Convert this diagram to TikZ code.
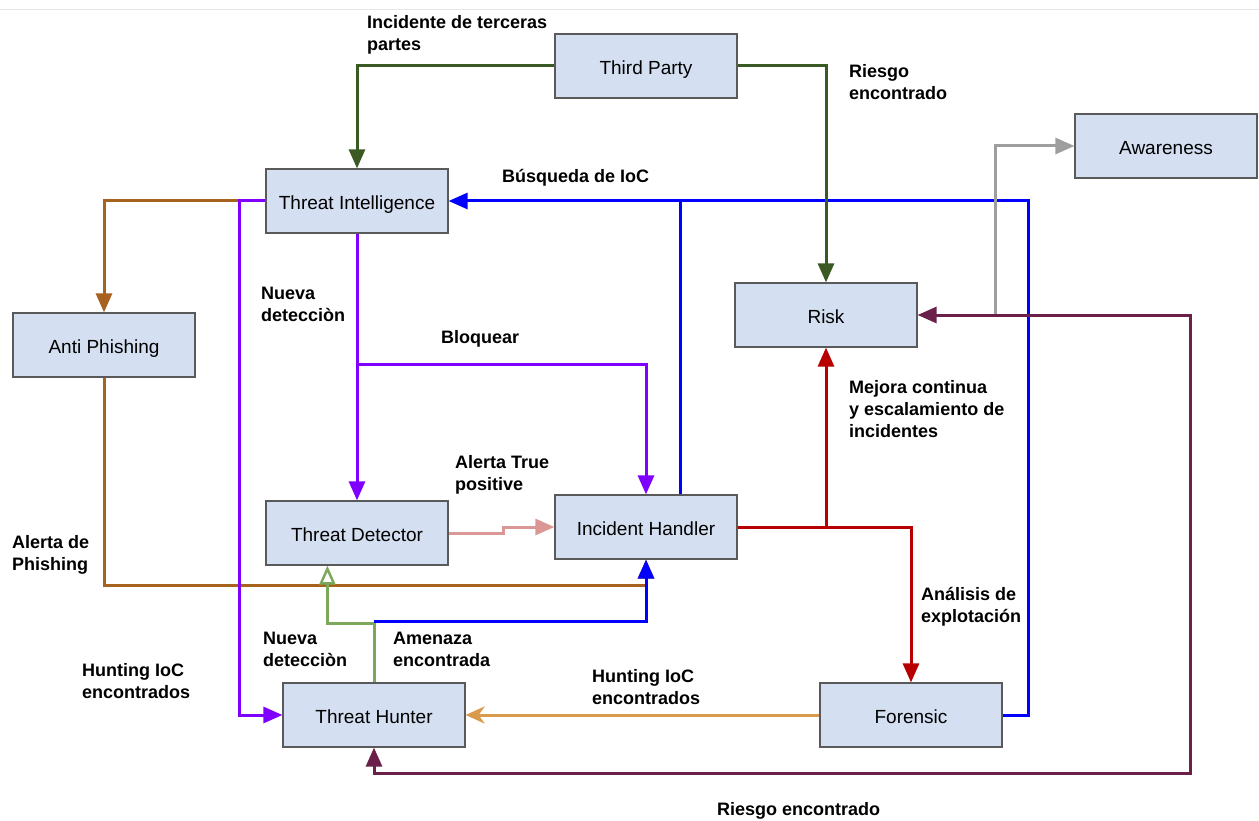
\documentclass[tikz,border=0pt]{standalone}
\usepackage{fontspec}
\setmainfont{Liberation Sans}
\usetikzlibrary{arrows.meta,calc}
\definecolor{boxfill}{HTML}{D4E0F1}
\definecolor{boxline}{HTML}{5A5A5A}
\definecolor{dgreen}{HTML}{3B5A23}
\definecolor{lgreen}{HTML}{7DA85B}
\definecolor{purp}{HTML}{8000FF}
\definecolor{bblue}{HTML}{0000FF}
\definecolor{brownc}{HTML}{A8621F}
\definecolor{pinkc}{HTML}{DB9796}
\definecolor{redc}{HTML}{B80000}
\definecolor{orangec}{HTML}{DA9A4C}
\definecolor{maroon}{HTML}{6A2048}
\definecolor{grayc}{HTML}{9E9E9E}
\definecolor{topline}{HTML}{E6E6E6}
\begin{document}
\begin{tikzpicture}[x=1pt,y=-1pt,
  box/.style={draw=boxline, fill=boxfill, line width=1.2pt, minimum width=182pt, minimum height=64pt, inner sep=0pt, text height=17pt, text depth=0pt, font=\fontsize{19}{22}\selectfont},
  lab/.style={anchor=north west, align=left, inner sep=0pt, font=\fontsize{18}{22}\selectfont\bfseries},
  conn/.style={line width=3pt},
  tip/.style={-{Triangle[length=19pt,width=16pt]}},
  tipboth/.style={{Triangle[length=19pt,width=16pt]}-{Triangle[length=19pt,width=16pt]}},
  opentip/.style={-{Triangle[open,length=19pt,width=16pt,line width=2.5pt]}},
  stealthtip/.style={-{Stealth[length=19pt,width=17pt,inset=6pt]}}
]
\useasboundingbox (0,0) rectangle (1259,821);
\draw[topline, line width=1pt] (0,10) -- (1259,10);

% nodes
\node[box] (tp) at (646,66) {Third Party};
\node[box] (ti) at (357,201) {Threat Intelligence};
\node[box] (aw) at (1166,146) {Awareness};
\node[box] (risk) at (826,315) {Risk};
\node[box] (ap) at (104,345) {Anti Phishing};
\node[box] (td) at (357,533) {Threat Detector};
\node[box] (ih) at (646,527) {Incident Handler};
\node[box] (th) at (374,715) {Threat Hunter};
\node[box] (fo) at (911,715) {Forensic};

% brown
\draw[conn,brownc,tip] (ti.west) -| (ap.north);
\draw[conn,brownc,tip] (ap.south) |- ($(ih.south)+(0,26)$) -- (ih.south);

% purple
\draw[conn,purp,tip] (ti.west) -- ++(-26,0) |- (th.west);
\draw[conn,purp,tip] (ti.south) -- (td.north);
\draw[conn,purp,tip] (ti.south |- 0,364) -| (ih.north);

% blue
\draw[conn,bblue,tip] (fo.east) -- ++(26,0) |- (ti.east);
\draw[conn,bblue] ($(ih.north west)+(126,0)$) coordinate (ihb) -- (ihb |- ti.east);

% dark green
\draw[conn,dgreen,tip] (tp.west) -| (ti.north);
\draw[conn,dgreen,tip] (tp.east) -| (risk.north);

% light green and blue from hunter
\draw[conn,lgreen,opentip] (th.north) -- ++(0,-59) -| ($(td.south west)+(62,0)$);
\draw[conn,bblue,tip] (th.north |- 0,621) -| (ih.south);

% pink
\draw[conn,pinkc,tip] (td.east) -- ++(55,0) |- (ih.west);

% red
\draw[conn,redc,tip] (ih.east) -| (risk.south);
\draw[conn,redc,tip] (ih.east) -| (fo.north);

% orange
\draw[conn,orangec,stealthtip] (fo.west) -- (th.east);

% gray
\draw[conn,grayc,tip] ($(risk.east)+(78,0)$) |- (aw.west);

% maroon
\draw[conn,maroon,tipboth] (risk.east) -- ++(273,0) |- ($(th.south)+(0,26)$) -- (th.south);

% labels
\node[lab] at (367,15) {Incidente de terceras\\partes};
\node[lab] at (849,64) {Riesgo\\encontrado};
\node[lab] at (502,169) {Búsqueda de IoC};
\node[lab] at (261,287) {Nueva\\detecciòn};
\node[lab] at (441,330) {Bloquear};
\node[lab] at (849,380) {Mejora continua\\y escalamiento de\\incidentes};
\node[lab] at (455,455) {Alerta True\\positive};
\node[lab] at (12,535) {Alerta de\\Phishing};
\node[lab] at (263,632) {Nueva\\detecciòn};
\node[lab] at (393,632) {Amenaza\\encontrada};
\node[lab] at (82,663) {Hunting IoC\\encontrados};
\node[lab] at (592,669) {Hunting IoC\\encontrados};
\node[lab] at (921,587) {Análisis de\\explotación};
\node[lab] at (717,802) {Riesgo encontrado};
\end{tikzpicture}
\end{document}
